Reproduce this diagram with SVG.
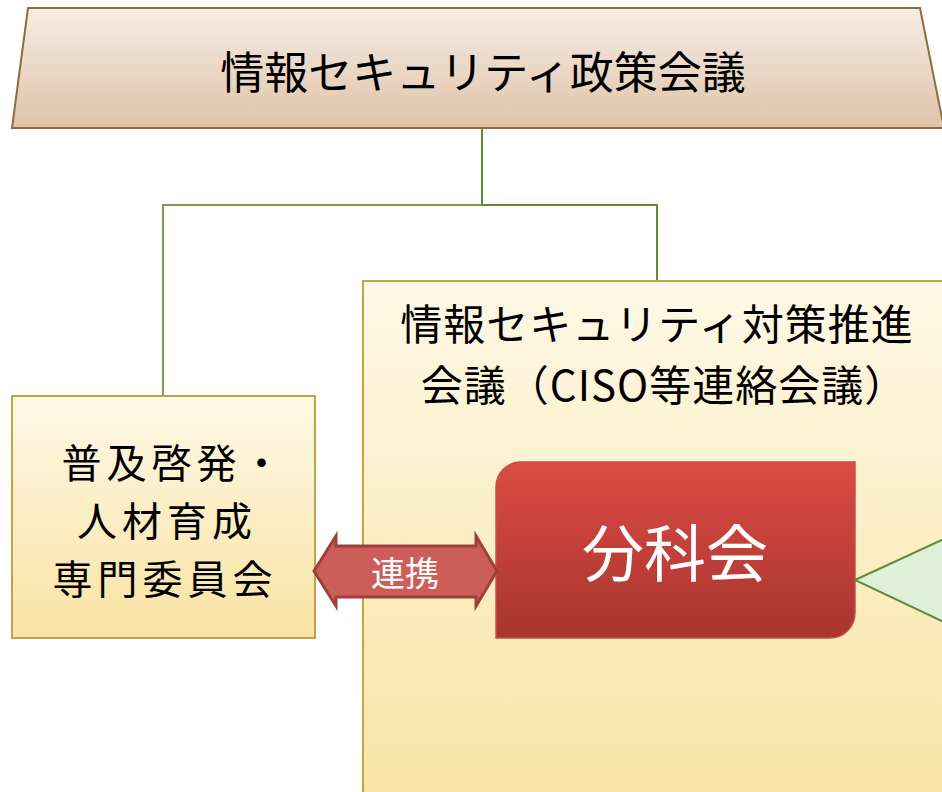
<svg xmlns="http://www.w3.org/2000/svg" width="942" height="792" viewBox="0 0 942 792">
<defs>
<linearGradient id="gTop" x1="0" y1="0" x2="0" y2="1"><stop offset="0" stop-color="#f6ede5"/><stop offset="1" stop-color="#dfc3a8"/></linearGradient>
<linearGradient id="gYel" x1="0" y1="0" x2="0" y2="1"><stop offset="0" stop-color="#fef8e7"/><stop offset="1" stop-color="#f9e3a2"/></linearGradient>
<linearGradient id="gBig" x1="0" y1="0" x2="0" y2="1"><stop offset="0" stop-color="#fef8e6"/><stop offset="1" stop-color="#f9e4a4"/></linearGradient>
<linearGradient id="gRed" x1="0" y1="0" x2="0" y2="1"><stop offset="0" stop-color="#dc4b43"/><stop offset="1" stop-color="#a73530"/></linearGradient>
<style>
.t{font-family:"Noto Sans CJK JP","Noto Sans",sans-serif;text-anchor:middle;dominant-baseline:central}
.blk{fill:#000}
.wht{fill:#fff}
.conn{stroke:#5d8d34;stroke-width:2;fill:none}
.ybox{stroke:#c1a544;stroke-width:2}
</style>
</defs>
<g id="connectors">
<path class="conn" d="M482 128 V205 H657 V281"/>
<path class="conn" d="M482 205 H163 V396" stroke-opacity="0.85"/>
</g>
<g id="policy-council">
<polygon points="28,8 920,8 944,128 12,128" fill="url(#gTop)" stroke="#8f6c3c" stroke-width="2"/>
<text class="t blk" x="483" y="70" font-size="44">情報セキュリティ政策会議</text>
</g>
<g id="promotion-committee">
<rect class="ybox" x="12" y="396" width="303" height="242" fill="url(#gYel)"/>
<text class="t blk" font-size="40" letter-spacing="5"><tspan x="174" y="461">普及啓発・</tspan><tspan x="167" y="519">人材育成</tspan><tspan x="165" y="577">専門委員会</tspan></text>
</g>
<g id="ciso-council">
<rect class="ybox" x="363" y="281" width="600" height="530" fill="url(#gBig)"/>
<text class="t blk" font-size="42" letter-spacing="1"><tspan x="657" y="321">情報セキュリティ対策推進</tspan><tspan x="664" y="382">会議（CISO等連絡会議）</tspan></text>
</g>
<g id="subcommittee">
<path d="M521 462 H855 V613 A25 25 0 0 1 830 638 H496 V487 A25 25 0 0 1 521 462 Z" fill="url(#gRed)" stroke="#c4504a" stroke-width="1.5"/>
<text class="t wht" x="675" y="550" font-size="62">分科会</text>
</g>
<g id="renkei-arrow">
<polygon points="314,571 336,536 336,546 476,546 476,536 497,571 476,606 476,597 336,597 336,606" fill="#cd5d59" stroke="#9d403c" stroke-width="3" stroke-linejoin="miter"/>
<text class="t wht" x="405" y="571" font-size="34">連携</text>
</g>
<g id="green-shape">
<polygon points="855,580 944,539 944,622" fill="#e0efd8" stroke="#5d8d34" stroke-width="2"/>
</g>
</svg>
